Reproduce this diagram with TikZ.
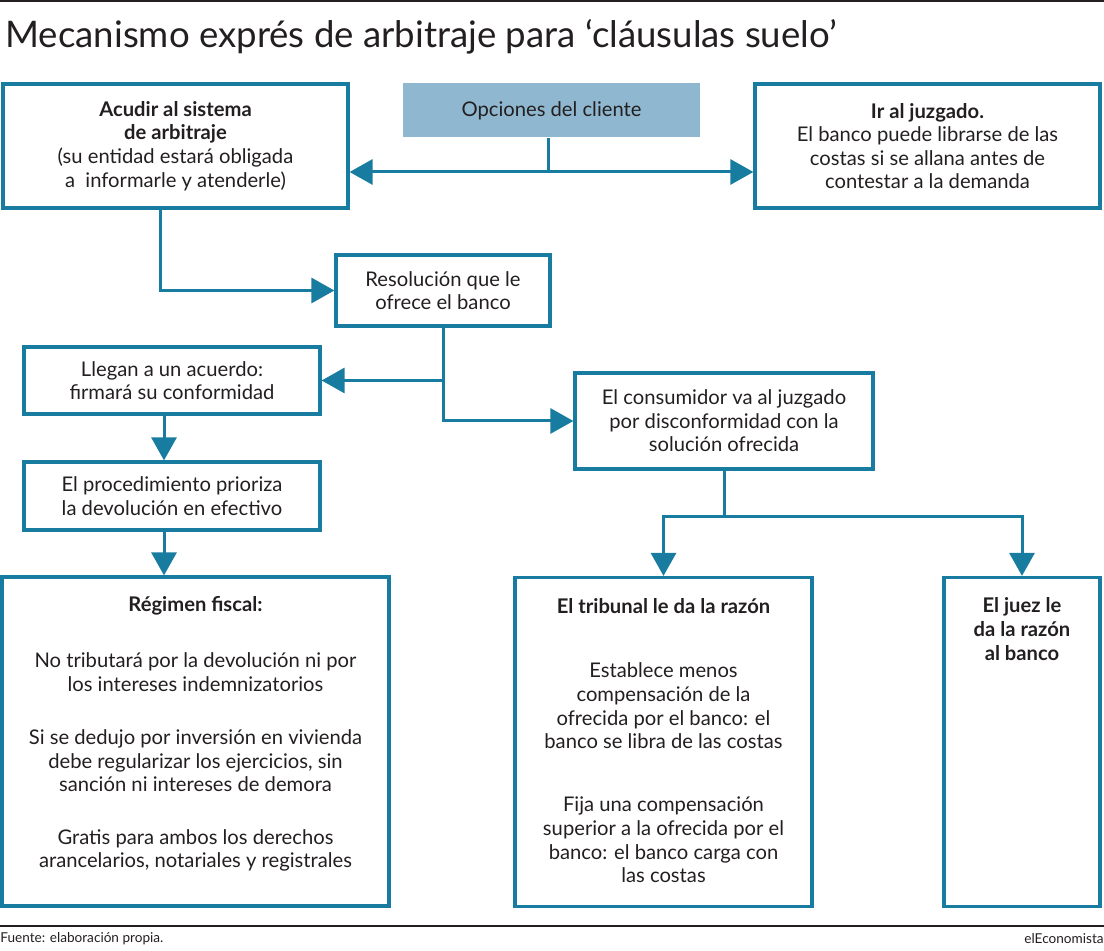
\documentclass[tikz,border=0pt]{standalone}
\usepackage{fontspec}
\setmainfont{Lato}
\usetikzlibrary{arrows.meta,positioning}
\definecolor{azul}{RGB}{24,124,160}
\definecolor{celeste}{RGB}{143,184,208}
\definecolor{texto}{RGB}{35,31,32}

\begin{document}
\begin{tikzpicture}[x=0.5pt, y=-0.5pt,
    caja/.style={draw=azul, line width=1.6pt, align=center, inner sep=0pt, text=texto, font=\fontsize{10.1}{11.8}\selectfont},
    txt/.style={align=center, inner sep=0pt, text=texto, font=\fontsize{10.1}{11.8}\selectfont},
    linea/.style={azul, line width=1.5pt},
    flecha/.style={linea, -{Triangle[length=11.5pt,width=12.5pt]}}]
    \useasboundingbox (0,0) rectangle (1104,951);
    % Titulo
    \draw[line width=1pt, texto] (0,1) -- (1104,1);
    \node[anchor=base west, inner sep=0pt, text=texto, font=\fontsize{18.3}{22}\selectfont] (titulo) at (5,48) {Mecanismo exprés de arbitraje para ‘cláusulas suelo’};

    % Opciones del cliente
    \node[fill=celeste, minimum width=148.5pt, minimum height=27pt, inner sep=0pt, text=texto, font=\fontsize{10.1}{11.8}\selectfont] (opciones) at (551.5,110.5) {Opciones del cliente};
    \node[caja, minimum width=172.5pt, minimum height=62pt] (acudir) at (175.5,146) {\textbf{Acudir al sistema}\\\textbf{de arbitraje}\\(su entidad estará obligada\\a~~informarle y atenderle)};
    \node[caja, minimum width=172.5pt, minimum height=62pt] (juzgado) at (927.5,146) {\textbf{Ir al juzgado.}\\El banco puede librarse de las\\costas si se allana antes de\\contestar a la demanda};

    % Arbitraje
    \node[caja, minimum width=107pt, minimum height=35.5pt] (resolucion) at (443,290.5) {Resolución que le\\ofrece el banco};
    \node[caja, minimum width=148pt, minimum height=33.5pt] (acuerdo) at (172,380.5) {Llegan a un acuerdo:\\firmará su conformidad};
    \node[caja, minimum width=149pt, minimum height=48pt] (consumidor) at (724,421) {El consumidor va al juzgado\\por disconformidad con la\\solución ofrecida};
    \node[caja, minimum width=148pt, minimum height=34pt] (procedimiento) at (172,496) {El procedimiento prioriza\\la devolución en efectivo};

    % Cajas finales
    \node[caja, minimum width=193.5pt, minimum height=164.5pt] (regimen) at (195.5,741.5) {};
    \node[caja, minimum width=148.5pt, minimum height=164.5pt] (tribunal) at (663.5,742) {};
    \node[caja, minimum width=78pt, minimum height=164.5pt] (juez) at (1022,742) {};

    \node[txt] (fiscal) at (195.5,606) {\textbf{Régimen fiscal:}};
    \node[txt] (tributa) at (195.5,672) {No tributará por la devolución ni por\\los intereses indemnizatorios};
    \node[txt] (vivienda) at (195.5,761) {Si se dedujo por inversión en vivienda\\debe regularizar los ejercicios, sin\\sanción ni intereses de demora};
    \node[txt] (gratis) at (195.5,850.5) {Gratis para ambos los derechos\\arancelarios, notariales y registrales};

    \node[txt] (razon) at (663.5,606) {\textbf{El tribunal le da la razón}};
    \node[txt] (menos) at (663.5,706) {Establece menos\\compensación de la\\ofrecida por el banco: el\\banco se libra de las costas};
    \node[txt] (superior) at (663.5,840) {Fija una compensación\\superior a la ofrecida por el\\banco: el banco carga con\\las costas};

    \node[txt] (juezbanco) at (1022,629) {\textbf{El juez le}\\\textbf{da la razón}\\\textbf{al banco}};

    % Flechas
    \coordinate (reparto) at (548,172);
    \draw[linea] (opciones.south -| reparto) -- (reparto);
    \draw[flecha] (reparto) -- (reparto -| acudir.east);
    \draw[flecha] (reparto) -- (reparto -| juzgado.west);

    \draw[flecha] (acudir.south -| 160,0) |- (resolucion.west);
    \draw[flecha] (resolucion.south) |- (consumidor.west);
    \draw[flecha] (resolucion.south |- acuerdo.east) -- (acuerdo.east);

    \coordinate (baja1) at ([xshift=-4pt]acuerdo.south);
    \coordinate (baja2) at ([xshift=-4pt]procedimiento.south);
    \draw[flecha] (baja1) -- (baja1 |- procedimiento.north);
    \draw[flecha] (baja2) -- (baja2 |- regimen.north);

    \coordinate (rama) at (724,517);
    \draw[linea] (consumidor.south) -- (rama);
    \draw[flecha] (rama) -| (tribunal.north);
    \draw[flecha] (rama) -| (juez.north);

    % Pie
    \draw[line width=0.8pt, texto] (0,926) -- (1104,926);
    \node[anchor=west, inner sep=0pt, text=texto, font=\fontsize{6.8}{8}\selectfont] (fuente) at (0,939) {Fuente: elaboración propia.};
    \node[anchor=east, inner sep=0pt, text=texto, font=\fontsize{6.8}{8}\selectfont] (marca) at (1104,939) {elEconomista};
\end{tikzpicture}
\end{document}
